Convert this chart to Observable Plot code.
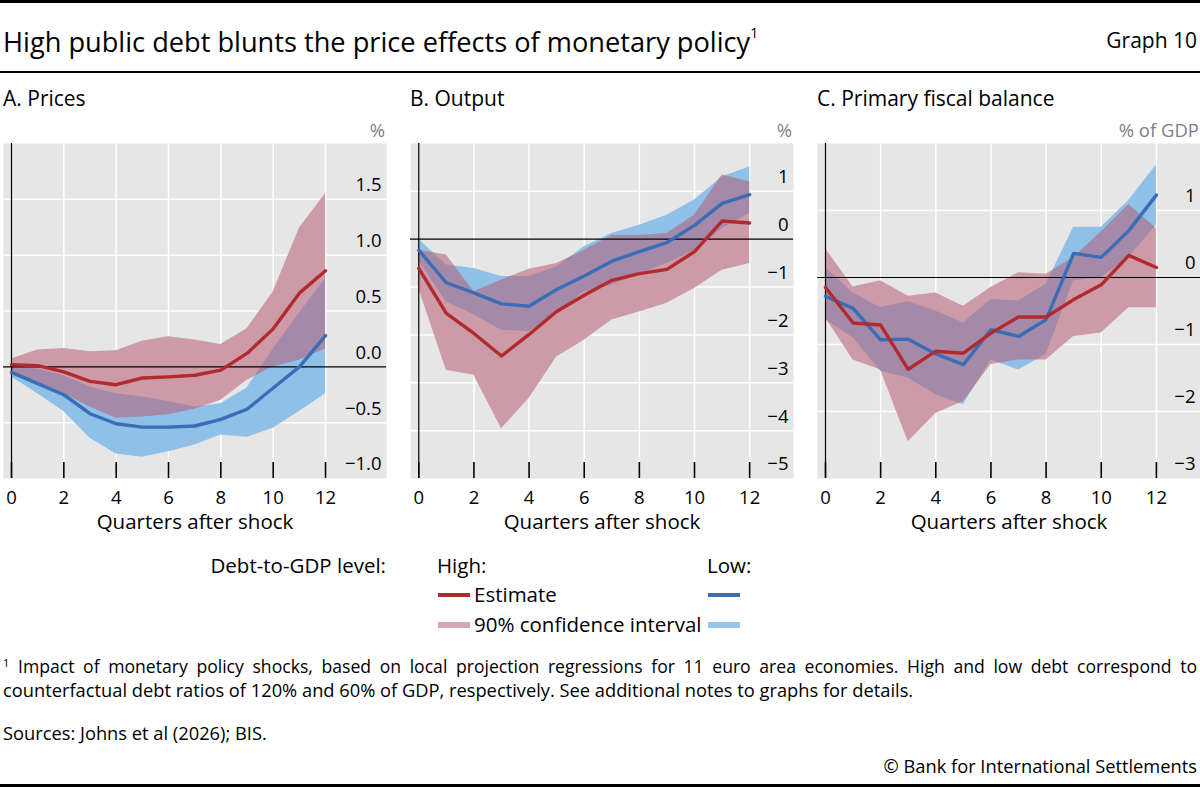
<!DOCTYPE html>
<html><head><meta charset="utf-8">
<script src="https://cdn.jsdelivr.net/npm/d3@7"></script>
<script src="https://cdn.jsdelivr.net/npm/@observablehq/plot@0.6"></script>
<style>
body{margin:0;background:#fff;font-family:"Open Sans",sans-serif;color:#000}
#root{position:relative;width:1200px;height:787px;overflow:hidden;background:#fff}
.abs{position:absolute;white-space:nowrap}
</style></head><body><div id="root"></div>
<script>
const quarters = [0,1,2,3,4,5,6,7,8,9,10,11,12];
const xTickValues = [0,2,4,6,8,10,12];

// A. Prices
const pricesHighEst = [0.02,0.01,-0.045,-0.13,-0.16,-0.10,-0.09,-0.075,-0.03,0.12,0.34,0.66,0.86];
const pricesHighLo  = [-0.06,-0.14,-0.24,-0.36,-0.46,-0.45,-0.43,-0.38,-0.30,-0.12,0.0,0.06,0.16];
const pricesHighHi  = [0.07,0.15,0.165,0.135,0.145,0.23,0.27,0.24,0.20,0.34,0.67,1.24,1.55];
const pricesLowEst  = [-0.05,-0.15,-0.25,-0.42,-0.51,-0.54,-0.54,-0.53,-0.47,-0.38,-0.19,0.0,0.28];
const pricesLowLo   = [-0.09,-0.24,-0.40,-0.64,-0.78,-0.81,-0.76,-0.70,-0.61,-0.63,-0.55,-0.40,-0.24];
const pricesLowHi   = [0.0,-0.02,-0.08,-0.18,-0.24,-0.27,-0.31,-0.36,-0.33,-0.19,0.16,0.48,0.79];
const pricesTicks = [-1,-0.5,0,0.5,1,1.5];

// B. Output
const outputHighEst = [-0.61,-1.55,-1.97,-2.44,-1.99,-1.51,-1.17,-0.86,-0.72,-0.63,-0.26,0.38,0.34];
const outputHighLo  = [-1.03,-2.74,-2.84,-3.96,-3.33,-2.46,-2.11,-1.69,-1.52,-1.34,-1.03,-0.65,-0.51];
const outputHighHi  = [-0.23,-0.33,-1.10,-0.85,-0.63,-0.51,-0.23,0.08,0.08,0.12,0.50,1.34,1.20];
const outputLowEst  = [-0.23,-0.91,-1.12,-1.35,-1.40,-1.05,-0.77,-0.46,-0.26,-0.07,0.29,0.75,0.93];
const outputLowLo   = [-0.45,-1.31,-1.58,-1.90,-1.93,-1.55,-1.10,-0.96,-0.72,-0.51,-0.23,0.22,0.54];
const outputLowHi   = [0.0,-0.54,-0.61,-0.78,-0.78,-0.58,-0.16,0.12,0.29,0.50,0.82,1.30,1.51];
const outputTicks = [-5,-4,-3,-2,-1,0,1];

// C. Primary fiscal balance
const fiscalHighEst = [-0.15,-0.68,-0.71,-1.37,-1.10,-1.13,-0.83,-0.59,-0.59,-0.33,-0.11,0.33,0.15];
const fiscalHighLo  = [-0.60,-1.23,-1.38,-2.45,-2.03,-1.85,-1.30,-1.23,-1.23,-0.88,-0.83,-0.45,-0.45];
const fiscalHighHi  = [0.43,-0.14,-0.05,-0.28,-0.23,-0.43,-0.15,0.07,0.05,0.30,0.68,1.09,0.73];
const fiscalLowEst  = [-0.28,-0.46,-0.93,-0.92,-1.14,-1.30,-0.78,-0.88,-0.63,0.36,0.30,0.70,1.23];
const fiscalLowLo   = [-0.63,-0.90,-1.40,-1.50,-1.75,-1.90,-1.23,-1.38,-1.15,-0.05,0.0,0.30,0.78];
const fiscalLowHi   = [0.15,-0.23,-0.45,-0.36,-0.50,-0.68,-0.33,-0.35,-0.10,0.75,0.75,1.15,1.68];
const fiscalTicks = [-3,-2,-1,0,1];

const RED = "#b2292e", BLUE = "#3a6db5";
const RED_BAND = "#b75c72", BLUE_BAND = "#78b6e8", GRAY = "#e6e6e6";

const root = document.getElementById("root");
function addDiv(html, style){
  const d = document.createElement("div");
  d.className = "abs";
  d.innerHTML = html;
  Object.assign(d.style, style);
  root.appendChild(d);
  return d;
}

const PLOT_TOP = 143, PLOT_W = 383, FRAME_H = 335, MB = 64;

function panel(cfg){
  const rows = quarters.map((q,i)=>({q,
    hEst: cfg.hEst[i], hLo: cfg.hLo[i], hHi: cfg.hHi[i],
    lEst: cfg.lEst[i], lLo: cfg.lLo[i], lHi: cfg.lHi[i]}));
  const grid = cfg.ticks.filter(d => d !== 0 && d !== cfg.yDomain[0]);
  const chart = Plot.plot({
    width: PLOT_W, height: FRAME_H + MB,
    marginLeft: 0, marginRight: 0, marginTop: 0, marginBottom: MB,
    style: {fontFamily: "Open Sans", background: "transparent", overflow: "visible"},
    x: {domain: cfg.xDomain, axis: null},
    y: {domain: cfg.yDomain, axis: null},
    marks: [
      Plot.frame({fill: GRAY, stroke: null}),
      Plot.ruleY(grid, {stroke: "white", strokeWidth: 1.5}),
      Plot.ruleX(xTickValues.filter(d => d !== 0), {stroke: "white", strokeWidth: 1.5}),
      Plot.areaY(rows, {x: "q", y1: "lLo", y2: "lHi", fill: GRAY}),
      Plot.areaY(rows, {x: "q", y1: "hLo", y2: "hHi", fill: GRAY}),
      Plot.areaY(rows, {x: "q", y1: "lLo", y2: "lHi", fill: BLUE_BAND, fillOpacity: 0.8}),
      Plot.areaY(rows, {x: "q", y1: "hLo", y2: "hHi", fill: RED_BAND, fillOpacity: 0.55}),
      Plot.ruleY([0], {stroke: "black", strokeWidth: 1.2}),
      Plot.ruleX([0], {stroke: "black", strokeWidth: 1.2}),
      Plot.lineY(rows, {x: "q", y: "lEst", stroke: BLUE, strokeWidth: 3.4}),
      Plot.lineY(rows, {x: "q", y: "hEst", stroke: RED, strokeWidth: 3.4}),
      Plot.ruleX(xTickValues, {insetTop: FRAME_H - 16, stroke: "black", strokeWidth: 1.6}),
      Plot.text(xTickValues, {x: d => d, frameAnchor: "bottom", dy: 20, text: d => String(d), fontSize: 18.5, fill: "black", lineAnchor: "middle"}),
      Plot.text(cfg.ticks, {x: cfg.xDomain[1], y: d => d, text: cfg.fmt, textAnchor: "end", dx: -5, dy: -14, fontSize: 18.5, fill: "black"}),
      Plot.text(["Quarters after shock"], {frameAnchor: "bottom", dy: 44, text: d => d, fontSize: 20.5, fill: "black", lineAnchor: "middle"})
    ]
  });
  chart.style.position = "absolute";
  chart.style.left = cfg.left + "px";
  chart.style.top = PLOT_TOP + "px";
  root.appendChild(chart);
  addDiv(cfg.title, {left: cfg.left + "px", top: "86px", fontSize: "21px", lineHeight: "24px"});
  addDiv(cfg.unit, {left: (cfg.left + PLOT_W - 300) + "px", width: "299px", textAlign: "right", top: "118px", fontSize: "18.5px", lineHeight: "24px", color: "#7f7f7f"});
}

const fmt1 = d3.format(".1f");
const fmt0 = d3.format("d");

panel({left: 3, title: "A. Prices", unit: "%", hEst: pricesHighEst, hLo: pricesHighLo, hHi: pricesHighHi,
  lEst: pricesLowEst, lLo: pricesLowLo, lHi: pricesLowHi, yDomain: [-1, 2], ticks: pricesTicks, fmt: fmt1, xDomain: [-0.306, 14.33]});
panel({left: 410, title: "B. Output", unit: "%", hEst: outputHighEst, hLo: outputHighLo, hHi: outputHighHi,
  lEst: outputLowEst, lLo: outputLowLo, lHi: outputLowHi, yDomain: [-5, 2], ticks: outputTicks, fmt: fmt0, xDomain: [-0.30, 13.59]});
panel({left: 817, title: "C. Primary fiscal balance", unit: "% of GDP", hEst: fiscalHighEst, hLo: fiscalHighLo, hHi: fiscalHighHi,
  lEst: fiscalLowEst, lLo: fiscalLowLo, lHi: fiscalLowHi, yDomain: [-3, 2], ticks: fiscalTicks, fmt: fmt0, xDomain: [-0.29, 13.6]});

// header
addDiv("", {left: "0px", top: "0px", width: "1200px", height: "3px", background: "#000"});
addDiv('High public debt blunts the price effects of monetary policy<sup style="font-size:14px;position:relative;top:-4px">1</sup>',
  {left: "3px", top: "21px", fontSize: "27.2px", lineHeight: "32px"});
addDiv("Graph 10", {right: "3px", top: "27px", fontSize: "21px", lineHeight: "26px"});
addDiv("", {left: "0px", top: "71px", width: "1200px", height: "1.5px", background: "#000"});

// legend
const LF = "20.5px";
addDiv("Debt-to-GDP level:", {left: "85px", width: "301px", textAlign: "right", top: "553px", fontSize: LF, lineHeight: "24px"});
addDiv("High:", {left: "437px", top: "553px", fontSize: LF, lineHeight: "24px"});
addDiv("Low:", {left: "707px", top: "553px", fontSize: LF, lineHeight: "24px"});
addDiv("Estimate", {left: "474px", top: "582px", fontSize: LF, lineHeight: "24px"});
addDiv("90% confidence interval", {left: "474px", top: "612px", fontSize: LF, lineHeight: "24px"});
addDiv("", {left: "438px", top: "593px", width: "32px", height: "4px", background: RED});
addDiv("", {left: "708px", top: "593px", width: "32px", height: "4px", background: BLUE});
addDiv("", {left: "438px", top: "622px", width: "32px", height: "6px", background: RED_BAND, opacity: 0.55});
addDiv("", {left: "708px", top: "622px", width: "32px", height: "6px", background: BLUE_BAND, opacity: 0.8});

// footer
const FF = "18.3px";
addDiv('<sup style="font-size:11px">1</sup>', {left: "3px", top: "652px", fontSize: FF, lineHeight: "22px"});
addDiv("Impact of monetary policy shocks, based on local projection regressions for 11 euro area economies. High and low debt correspond to",
  {left: "18px", width: "1179px", top: "655px", fontSize: "17.6px", lineHeight: "22px", whiteSpace: "normal", textAlign: "justify", textAlignLast: "justify"});
addDiv("counterfactual debt ratios of 120% and 60% of GDP, respectively. See additional notes to graphs for details.",
  {left: "3px", top: "679px", fontSize: FF, lineHeight: "22px"});
addDiv("Sources: Johns et al (2026); BIS.", {left: "3px", top: "722px", fontSize: FF, lineHeight: "22px"});
addDiv("© Bank for International Settlements", {right: "3px", top: "755px", fontSize: FF, lineHeight: "22px"});
addDiv("", {left: "0px", top: "784px", width: "1200px", height: "3px", background: "#000"});
</script></body></html>
